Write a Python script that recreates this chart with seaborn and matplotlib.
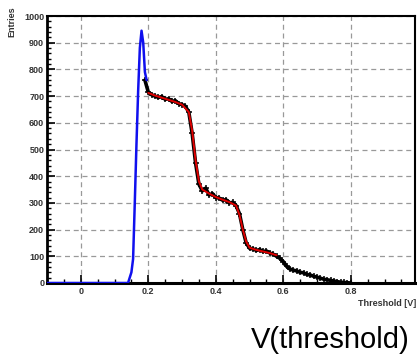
import numpy as np
import pandas as pd
import matplotlib
matplotlib.use("Agg")
import matplotlib.pyplot as plt
import seaborn as sns
from matplotlib.ticker import MultipleLocator

# ---- data ----
blue_x = [-0.10, 0.0, 0.10, 0.14, 0.15, 0.155, 0.16, 0.165, 0.17, 0.175, 0.18, 0.185, 0.19, 0.195]
blue_y = [0, 0, 0, 0, 40, 90, 300, 520, 720, 880, 945, 900, 790, 760]

black_x = [0.19, 0.20, 0.21, 0.22, 0.23, 0.24, 0.25, 0.26, 0.27, 0.28, 0.29, 0.30,
           0.31, 0.32, 0.33, 0.34, 0.35, 0.36, 0.37, 0.38, 0.39, 0.40, 0.41, 0.42,
           0.43, 0.44, 0.45, 0.46, 0.47, 0.48, 0.49, 0.50, 0.51, 0.52, 0.53, 0.54,
           0.55, 0.56, 0.57, 0.58, 0.59, 0.60, 0.61, 0.62, 0.63, 0.64, 0.65, 0.66,
           0.67, 0.68, 0.69, 0.70, 0.71, 0.72, 0.73, 0.74, 0.75, 0.76, 0.77, 0.78,
           0.79, 0.80]
black_y = [760, 715, 705, 700, 695, 698, 688, 690, 680, 683, 672, 668,
           662, 640, 560, 450, 370, 345, 355, 330, 335, 320, 318, 310,
           312, 300, 302, 290, 260, 200, 150, 130, 128, 122, 125, 118,
           120, 112, 108, 100, 92, 80, 62, 52, 48, 45, 40, 38,
           32, 30, 25, 22, 18, 14, 12, 10, 7, 5, 3, 2,
           1, 0]

red_x = [0.20, 0.22, 0.24, 0.26, 0.28, 0.30, 0.32, 0.33, 0.34, 0.35, 0.36, 0.38,
         0.40, 0.42, 0.44, 0.46, 0.47, 0.48, 0.49, 0.50, 0.52, 0.54, 0.56, 0.58]
red_y = [712, 702, 694, 686, 678, 668, 640, 570, 460, 380, 350, 335,
         322, 312, 303, 290, 255, 200, 155, 132, 124, 118, 112, 104]

x_ticks = [0, 0.2, 0.4, 0.6, 0.8]
x_tick_labels = ["0", "0.2", "0.4", "0.6", "0.8"]
y_ticks = [0, 100, 200, 300, 400, 500, 600, 700, 800, 900, 1000]

# ---- plotting ----
sns.set_style("white")
plt.rcParams['font.family'] = ['Liberation Sans', 'DejaVu Sans']

fig = plt.figure(figsize=(4.17, 3.63), dpi=100)
ax = fig.add_axes([47/417, 80/363, 368/417, 267/363])

sns.lineplot(x=black_x, y=black_y, ax=ax, color="black", linewidth=2.6, zorder=3,
             marker="+", markersize=5, markeredgewidth=1.1,
             markeredgecolor="black", markerfacecolor="black")
sns.lineplot(x=red_x, y=red_y, ax=ax, color="#e00000", linewidth=1.4, zorder=4)
sns.lineplot(x=blue_x, y=blue_y, ax=ax, color="#1010ee", linewidth=1.8, zorder=5)

ax.set_xlim(-0.1, 0.99)
ax.set_ylim(0, 1000)
ax.set_xticks(x_ticks)
ax.set_xticklabels(x_tick_labels)
ax.set_yticks(y_ticks)
ax.set_yticklabels([str(v) for v in y_ticks])
ax.xaxis.set_minor_locator(MultipleLocator(0.05))
ax.yaxis.set_minor_locator(MultipleLocator(20))

ax.grid(True, which="major", color="#999999", linestyle=(0, (4, 3)), lw=0.9)
ax.tick_params(axis="both", which="major", direction="in", length=6, width=1.2,
               labelsize=6.5, pad=2, bottom=True, left=True, top=False, right=False,
               color="black")
ax.tick_params(axis="both", which="minor", direction="in", length=3, width=1.0,
               bottom=True, left=True, top=False, right=False, color="black")
ax.tick_params(axis="x", which="major", pad=3)
for lab in ax.get_xticklabels() + ax.get_yticklabels():
    lab.set_fontweight("bold")
    lab.set_color("#333333")

for s in ax.spines.values():
    s.set_linewidth(1.5)
    s.set_color("black")
ax.spines["left"].set_linewidth(2.0)
ax.spines["bottom"].set_linewidth(2.2)

ax.set_xlabel("")
ax.set_ylabel("")
fig.text(416/417, 1 - 303/363, "Threshold [V]", ha="right", va="center",
         fontsize=6.5, fontweight="bold", color="#333333")
fig.text(12/417, 1 - 6/363, "Entries", ha="center", va="top", rotation=90,
         fontsize=6.5, fontweight="bold", color="#333333")
fig.text(410/417, 1 - 340/363, "V(threshold)", ha="right", va="center",
         fontsize=21, color="black")

fig.savefig("out.png", dpi=100)
